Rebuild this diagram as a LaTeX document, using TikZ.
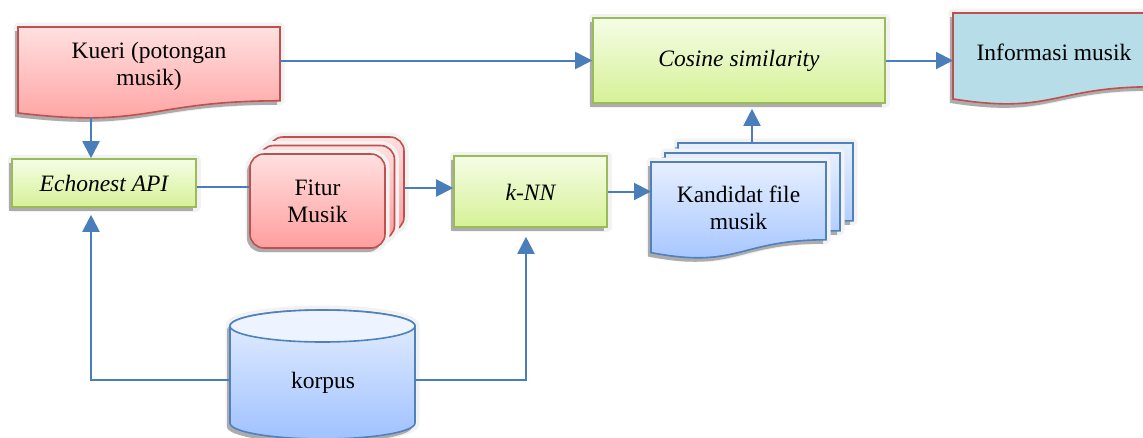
\documentclass[tikz,border=0pt]{standalone}
\usepackage{fontspec}
\setmainfont{Liberation Serif}
\usetikzlibrary{arrows.meta,shadows,calc}
\definecolor{redtop}{RGB}{255,224,224}
\definecolor{redbot}{RGB}{255,158,158}
\definecolor{redline}{RGB}{192,80,77}
\definecolor{greentop}{RGB}{245,253,230}
\definecolor{greenbot}{RGB}{214,241,150}
\definecolor{greenline}{RGB}{155,187,89}
\definecolor{bluetop}{RGB}{230,239,255}
\definecolor{bluebot}{RGB}{160,194,255}
\definecolor{blueline}{RGB}{79,129,189}
\definecolor{infofill}{RGB}{183,222,232}
\definecolor{arrowblue}{RGB}{74,126,187}
\tikzset{
  halo/.style={preaction={draw=black!5,line width=9pt,line join=round}},
  shad/.style={halo,drop shadow={shadow xshift=-3pt,shadow yshift=-4pt,fill=black!55,opacity=0.55}},
  redshape/.style={shad,draw=redline,line width=1.6pt,top color=redtop,bottom color=redbot},
  greenbox/.style={shad,draw=greenline,line width=1.6pt,top color=greentop,bottom color=greenbot,inner sep=0pt},
  blueshape/.style={shad,draw=blueline,line width=1.6pt,top color=bluetop,bottom color=bluebot},
  infoshape/.style={shad,draw=redline,line width=1.6pt,fill=infofill},
  redcard/.style={redshape,rounded corners=14pt,inner sep=0pt},
  frame/.style={inner sep=0pt,outer sep=0pt},
  txt/.style={align=center,inner sep=0pt,font=\fontsize{23.5}{27}\selectfont},
  itxt/.style={txt,font=\fontsize{23.5}{27}\selectfont\itshape},
  conn/.style={draw=arrowblue,line width=2pt},
  arr/.style={conn,-{Triangle[length=17pt,width=17pt]}},
}
% style, x, y, w, h, name
\newcommand\docshape[6]{%
  \path[#1] (#2,#3) -- (#2+#4,#3) -- (#2+#4,#3+0.802*#5)
    .. controls (#2+0.5*#4,#3+0.802*#5) and (#2+0.5*#4,#3+1.1075*#5) .. (#2,#3+0.934*#5) -- cycle;
  \node[frame,minimum width=#4pt,minimum height=#5pt,anchor=north west] (#6) at (#2,#3) {};
}
\begin{document}
\begin{tikzpicture}[x=1pt,y=-1pt]
\useasboundingbox (0,0) rectangle (1143,437);
\clip (0,0) rectangle (1143,437);
\fill[white] (0,0) rectangle (1143,437);

% Kueri document
\docshape{redshape}{18}{27}{262}{92}{kueri}
\node[txt] (kueritxt) at (149,66.5) {Kueri (potongan\\musik)};

% Echonest API
\node[greenbox,minimum width=184pt,minimum height=48pt] (echo) at (104,183) {};
\node[itxt] (echotxt) at (104,183) {Echonest API};

% Fitur Musik stack
\node[redcard,minimum width=135pt,minimum height=94pt] (fitur3) at (336.5,184) {};
\node[redcard,minimum width=135pt,minimum height=94pt] (fitur2) at (327,192.5) {};
\node[redcard,minimum width=135pt,minimum height=94pt] (fitur1) at (317.5,201) {};
\node[txt] (fiturtxt) at (317.5,201) {Fitur\\Musik};

% k-NN
\node[greenbox,minimum width=153pt,minimum height=71pt] (knn) at (530.5,191.5) {};
\node[itxt] (knntxt) at (530.5,192) {k-NN};

% Kandidat stack
\docshape{blueshape}{678}{143}{175}{97}{kand3}
\docshape{blueshape}{665}{153}{175}{97}{kand2}
\docshape{blueshape}{651}{162}{175}{97}{kand1}
\node[txt] (kandtxt) at (738.5,208) {Kandidat file\\musik};

% Cosine similarity
\node[greenbox,minimum width=292pt,minimum height=85pt] (cosine) at (739,60.5) {};
\node[itxt] (cosinetxt) at (739,61) {Cosine similarity};

% Informasi musik
\docshape{infoshape}{953}{13}{200}{92}{info}
\node[txt] (infotxt) at (1054,52) {Informasi musik};

% korpus cylinder
\path[blueshape] (230,326) -- (230,423) arc[start angle=180,end angle=0,x radius=92.5,y radius=16]
  -- (415,326) arc[start angle=0,end angle=-180,x radius=92.5,y radius=16] -- cycle;
\path[draw=blueline,line width=1.6pt,fill=bluetop!70!white] (322.5,326) ellipse[x radius=92.5,y radius=16];
\node[frame,minimum width=185pt,minimum height=129pt] (korpus) at (322.5,374.5) {};
\node[txt] (korpustxt) at (323,383) {korpus};

% connectors
\coordinate (kq) at (91,117);
\draw[arr] (kq) -- (kq |- echo.north);
\draw[arr] (kueri.east |- cosine.west) -- (cosine.west);
\draw[arr] (cosine.east) -- (cosine.east -| info.west);
\draw[conn] ([yshift=-4pt]echo.east) -- ([yshift=-4pt]echo.east -| fitur1.west);
\draw[arr] ([yshift=3.5pt]knn.west -| fitur3.east) -- ([yshift=3.5pt]knn.west);
\draw[arr] (knn.east) -- (knn.east -| kand1.west);
\draw[arr] ([xshift=-13.5pt]kand3.north) -- ([xshift=-13.5pt,yshift=-5pt]kand3.north |- cosine.south);
\draw[arr] ([yshift=-5.5pt]korpus.west) -| ([yshift=-7pt]echo.south -| kq);
\draw[arr] ([yshift=-5.5pt]korpus.east) -| ([xshift=-4.5pt,yshift=-9pt]knn.south);
\end{tikzpicture}
\end{document}
